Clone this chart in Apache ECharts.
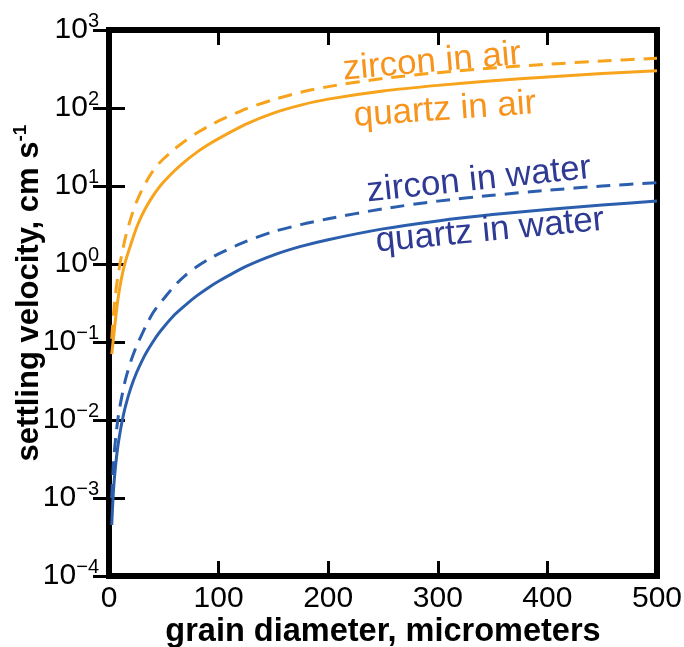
<!DOCTYPE html>
<html>
<head>
<meta charset="utf-8">
<script src="https://cdn.jsdelivr.net/npm/echarts@6/dist/echarts.min.js"></script>
<style>
  html, body { margin: 0; padding: 0; background: #fff; }
  #chart { width: 684px; height: 647px; }
</style>
</head>
<body>
<div id="chart"></div>
<script>
// grain diameter, micrometers
const diameters   = [2.5, 4, 6, 8, 10, 12, 15, 20, 25, 30, 35, 40, 45, 50, 60, 70, 80, 90, 100, 125, 150, 175, 200, 250, 300, 350, 400, 450, 500];
// settling velocity, cm/s
const quartzWater = [0.00045, 0.0012, 0.0026, 0.0045, 0.0068, 0.0097, 0.015, 0.026, 0.04, 0.057, 0.077, 0.10, 0.127, 0.156, 0.225, 0.30, 0.39, 0.49, 0.6, 0.93, 1.3, 1.68, 2.05, 2.82, 3.57, 4.3, 5.0, 5.7, 6.4];
const zirconWater = [0.001, 0.0027, 0.0058, 0.01, 0.015, 0.021, 0.033, 0.057, 0.088, 0.125, 0.175, 0.235, 0.295, 0.36, 0.53, 0.72, 0.92, 1.13, 1.35, 1.95, 2.6, 3.2, 3.8, 5.1, 6.4, 7.6, 8.8, 10, 11];
const quartzAir   = [0.07, 0.11, 0.2, 0.34, 0.52, 0.72, 1.08, 1.8, 2.9, 4.2, 5.7, 7.4, 9.3, 11.3, 15.8, 21, 27, 33.5, 40.5, 62, 86, 109, 130, 165, 195, 223, 250, 276, 300];
const zirconAir   = [0.11, 0.22, 0.42, 0.68, 1.0, 1.4, 2.2, 3.9, 6.2, 8.9, 12, 15.5, 19, 22.5, 30, 38.4, 47.7, 57.6, 68.2, 97.4, 128, 159, 188, 239, 284, 326, 364, 400, 435];

const xTicks = [0, 100, 200, 300, 400, 500];
const seriesLabels = ['zircon in air', 'quartz in air', 'zircon in water', 'quartz in water'];

const FONT = 'Liberation Sans, Arial, Helvetica, sans-serif';
const ORANGE = '#F8A31C', ORANGE_TXT = '#F7941D';
const BLUE = '#2B5EAD', BLUE_TXT = '#2E3A93';

function pairs(ys) { return diameters.map((d, i) => [d, ys[i]]); }

function yLabel(v) {
  const e = Math.round(Math.log10(v));
  const s = e < 0 ? '\u2212' + Math.abs(e) : String(e);
  return '{b|10}{s|' + s + '}';
}

const tickRich = {
  b: { fontSize: 30, lineHeight: 37, fontFamily: FONT, color: '#000' },
  s: { fontSize: 20, lineHeight: 20, fontFamily: FONT, color: '#000', verticalAlign: 'top' }
};

const chart = echarts.init(document.getElementById('chart'), null, { renderer: 'canvas' });

const lineSeries = (name, ys, color, dashed) => ({
  name, type: 'line', data: pairs(ys), smooth: 0.25, showSymbol: false, clip: true,
  lineStyle: { color, width: 3, type: dashed ? [14, 9] : 'solid' }
});

const option = {
  animation: false,
  textStyle: { fontFamily: FONT },
  grid: { left: 109, right: 27, top: 30, bottom: 71, outerBoundsMode: 'none', containLabel: false,
          show: true, borderColor: '#000', borderWidth: 6, backgroundColor: 'transparent' },
  xAxis: [{
    type: 'value', min: xTicks[0], max: xTicks[xTicks.length - 1], interval: 100, position: 'bottom',
    axisLine: { show: false },
    axisTick: { inside: true, length: 15, lineStyle: { width: 3, color: '#000' } },
    axisLabel: { fontSize: 30, color: '#000', margin: 8, fontFamily: FONT },
    splitLine: { show: false },
    name: 'grain diameter, micrometers', nameLocation: 'middle', nameGap: 40, nameMoveOverlap: false,
    nameTextStyle: { fontSize: 32.5, fontWeight: 'bold', color: '#000', fontFamily: FONT }
  }, {
    type: 'value', min: xTicks[0], max: xTicks[xTicks.length - 1], interval: 100, position: 'top',
    axisLine: { show: false },
    axisTick: { inside: true, length: 15, lineStyle: { width: 3, color: '#000' } },
    axisLabel: { show: false }, splitLine: { show: false }
  }],
  yAxis: [{
    type: 'log', logBase: 10, min: 1e-4, max: 1e3, position: 'left',
    axisLine: { show: false },
    axisTick: { inside: true, length: 16, lineStyle: { width: 3, color: '#000' } },
    axisLabel: { formatter: yLabel, rich: tickRich, margin: 10 },
    splitLine: { show: false }, minorTick: { show: false },
    name: '{t|settling velocity, cm s}{s|-1}', nameLocation: 'middle', nameGap: 62, nameRotate: 90, nameMoveOverlap: false,
    nameTextStyle: {
      color: '#000', padding: [0, 0, 0, 20],
      rich: {
        t: { fontSize: 31, fontWeight: 'bold', fontFamily: FONT, color: '#000', lineHeight: 36 },
        s: { fontSize: 19, fontWeight: 'bold', fontFamily: FONT, color: '#000', lineHeight: 19, verticalAlign: 'top' }
      }
    }
  }, {
    type: 'log', logBase: 10, min: 1e-4, max: 1e3, position: 'right',
    axisLine: { show: false },
    axisTick: { inside: true, length: 16, lineStyle: { width: 3, color: '#000' } },
    axisLabel: { show: false }, splitLine: { show: false }, minorTick: { show: false }
  }],
  series: [
    lineSeries(seriesLabels[0], zirconAir, ORANGE, true),
    lineSeries(seriesLabels[1], quartzAir, ORANGE, false),
    lineSeries(seriesLabels[2], zirconWater, BLUE, true),
    lineSeries(seriesLabels[3], quartzWater, BLUE, false)
  ],
  graphic: [
    { type: 'text', x: 432, y: 62, rotation: 5 * Math.PI / 180, z: 10,
      style: { text: seriesLabels[0], fontSize: 35, fontFamily: FONT, fill: ORANGE_TXT, align: 'center', verticalAlign: 'middle' } },
    { type: 'text', x: 445, y: 110, rotation: 4 * Math.PI / 180, z: 10,
      style: { text: seriesLabels[1], fontSize: 35, fontFamily: FONT, fill: ORANGE_TXT, align: 'center', verticalAlign: 'middle' } },
    { type: 'text', x: 479, y: 180, rotation: 6 * Math.PI / 180, z: 10,
      style: { text: seriesLabels[2], fontSize: 35, fontFamily: FONT, fill: BLUE_TXT, align: 'center', verticalAlign: 'middle' } },
    { type: 'text', x: 490, y: 231, rotation: 5.5 * Math.PI / 180, z: 10,
      style: { text: seriesLabels[3], fontSize: 35, fontFamily: FONT, fill: BLUE_TXT, align: 'center', verticalAlign: 'middle' } }
  ]
};

chart.setOption(option);
</script>
</body>
</html>
